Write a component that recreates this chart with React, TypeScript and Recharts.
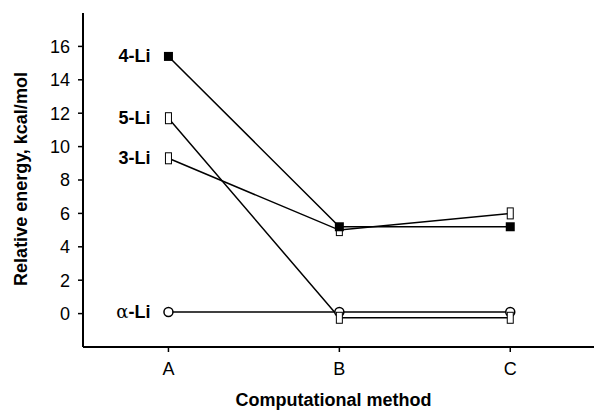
import React from 'react';
import { LineChart, Line, XAxis, YAxis } from 'recharts';

const methods = ['A', 'B', 'C'];
const li4 = [15.4, 5.2, 5.2];
const li5 = [11.7, -0.25, -0.25];
const li3 = [9.3, 5.0, 6.0];
const alphaLi = [0.1, 0.1, 0.1];
const yTicks = [0, 2, 4, 6, 8, 10, 12, 14, 16];

const data = methods.map((m, i) => ({
  pos: i,
  method: m,
  li4: li4[i],
  li5: li5[i],
  li3: li3[i],
  alpha: alphaLi[i],
}));

const FONT = '"Liberation Sans", Arial, Helvetica, sans-serif';

const FilledSquare = (props: any) => {
  const { cx, cy } = props;
  if (cx == null || cy == null) return null;
  return <rect x={cx - 4.5} y={cy - 4.5} width={9} height={9} fill="#000" />;
};

const OpenRect = (props: any) => {
  const { cx, cy } = props;
  if (cx == null || cy == null) return null;
  return <rect x={cx - 3} y={cy - 5.5} width={6} height={11} fill="#fff" stroke="#000" strokeWidth={1} />;
};

const OpenCircle = (props: any) => {
  const { cx, cy } = props;
  if (cx == null || cy == null) return null;
  return <circle cx={cx} cy={cy} r={4.5} fill="#fff" stroke="#000" strokeWidth={1.5} />;
};

const seriesLabel = (name: string, greek?: string) => (props: any) => {
  const { x, y, index } = props;
  if (index !== 0) return null;
  return (
    <text x={x - 18} y={y + 6} textAnchor="end" fontFamily={FONT} fontSize={18} fill="#000">
      {greek ? <tspan fontFamily='"DejaVu Serif", serif' fontWeight="normal">{greek}</tspan> : null}
      <tspan fontWeight="bold">{name}</tspan>
    </text>
  );
};

export default function App() {
  return (
    <div style={{ position: 'absolute', left: 0, top: 0, background: '#fff' }}>
      <LineChart width={594} height={411} data={data} margin={{ top: 13, right: 0, bottom: 0, left: 0 }}>
        <XAxis
          dataKey="pos"
          type="number"
          domain={[-0.5, 2.49]}
          ticks={[0, 1, 2]}
          tickFormatter={(v: number) => methods[v]}
          axisLine={{ stroke: '#000', strokeWidth: 2 }}
          tickLine={{ stroke: '#000', strokeWidth: 1.5 }}
          tickSize={5}
          tickMargin={10}
          tick={{ fill: '#000', fontSize: 18, fontFamily: FONT }}
          height={64}
          label={{
            content: (p: any) => {
              const vb = p.viewBox;
              return (
                <text x={vb.x + vb.width / 2 - 5} y={406} textAnchor="middle" fontFamily={FONT} fontSize={18} fontWeight="bold" fill="#000">
                  Computational method
                </text>
              );
            },
          }}
        />
        <YAxis
          type="number"
          domain={[-2, 18]}
          ticks={yTicks}
          width={83}
          axisLine={{ stroke: '#000', strokeWidth: 2 }}
          tickLine={{ stroke: '#000', strokeWidth: 1.5 }}
          tickSize={5}
          tickMargin={8}
          tick={{ fill: '#000', fontSize: 18, fontFamily: FONT }}
          label={{
            content: (p: any) => {
              const vb = p.viewBox;
              const cy = vb.y + vb.height / 2 - 1;
              return (
                <text x={27} y={cy} transform={`rotate(-90, 27, ${cy})`} textAnchor="middle" fontFamily={FONT} fontSize={18} fontWeight="bold" fill="#000">
                  Relative energy, kcal/mol
                </text>
              );
            },
          }}
        />
        <Line dataKey="alpha" stroke="#000" strokeWidth={1.5} dot={<OpenCircle />} activeDot={false} isAnimationActive={false} label={seriesLabel('-Li', 'α')} />
        <Line dataKey="li5" stroke="#000" strokeWidth={1.5} dot={<OpenRect />} activeDot={false} isAnimationActive={false} label={seriesLabel('5-Li')} />
        <Line dataKey="li3" stroke="#000" strokeWidth={1.5} dot={<OpenRect />} activeDot={false} isAnimationActive={false} label={seriesLabel('3-Li')} />
        <Line dataKey="li4" stroke="#000" strokeWidth={1.5} dot={<FilledSquare />} activeDot={false} isAnimationActive={false} label={seriesLabel('4-Li')} />
      </LineChart>
    </div>
  );
}
